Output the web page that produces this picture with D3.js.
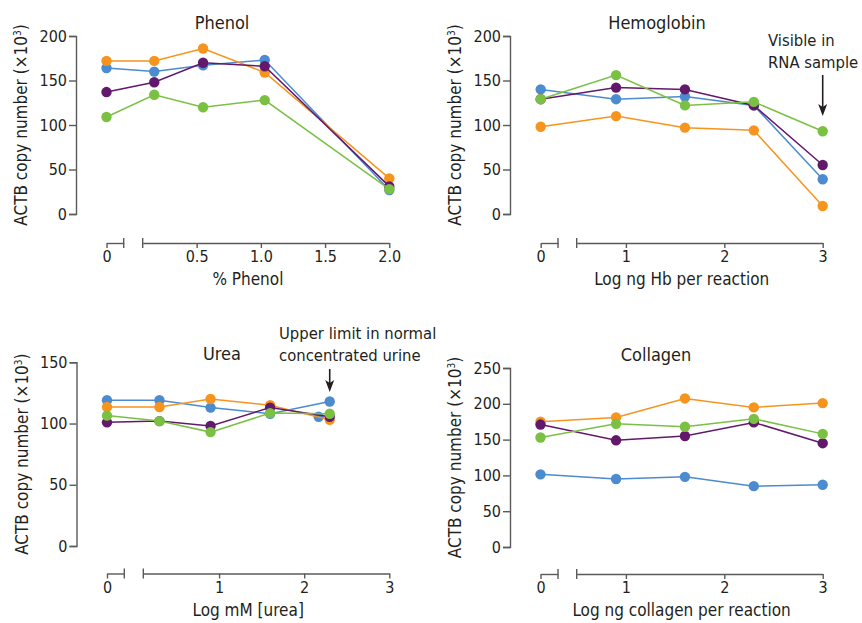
<!DOCTYPE html>
<html>
<head>
<meta charset="utf-8">
<script src="https://cdn.jsdelivr.net/npm/d3@7"></script>
<style>
  body { margin: 0; background: #fff; }
  svg text { font-family: "Liberation Sans Narrow", "DejaVu Sans Condensed", sans-serif; fill: #231f20; }
  .axis path, .axis line { stroke: #5a5a5a; stroke-width: 1.4; }
  .axis text { font-size: 16px; }
</style>
</head>
<body>
<svg id="chart" width="862" height="623"></svg>
<script>
// series order (drawing order, bottom to top)
const seriesKeys = ['blue', 'orange', 'purple', 'green'];
const seriesColors = ['#4b8bcf', '#f7941d', '#63196b', '#7ac143'];

// Phenol
const phenolX = [0, 0.17, 0.55, 1.03, 2.0];
const phenolBlue = [164, 160, 167, 173, 27];
const phenolOrange = [172, 172, 186, 159, 40];
const phenolPurple = [137, 148, 170, 166, 31];
const phenolGreen = [109, 134, 120, 128, 28];
const phenolXTicks = [0.5, 1.0, 1.5, 2.0];
const phenolYTicks = [0, 50, 100, 150, 200];

// Hemoglobin
const hbX = [0, 0.9, 1.6, 2.3, 3];
const hbBlue = [140, 129, 132, 122, 39];
const hbOrange = [98, 110, 97, 94, 9];
const hbPurple = [129, 142, 140, 122, 55];
const hbGreen = [129, 156, 122, 126, 93];
const hbXTicks = [1, 2, 3];
const hbYTicks = [0, 50, 100, 150, 200];

// Urea
const ureaX = [0, 0.3, 0.9, 1.6, 2.3];
const ureaBlue = [119, 119, 113, 108, 118];
const ureaOrange = [113.5, 113.5, 120, 115, 103];
const ureaPurple = [101, 102, 98, 113, 105.5];
const ureaGreen = [106.5, 102, 93, 108.5, 108];
const ureaBlueExtraX = [2.17];
const ureaBlueExtraY = [105.5];
const ureaXTicks = [1, 2, 3];
const ureaYTicks = [0, 50, 100, 150];

// Collagen
const collagenX = [0, 0.9, 1.6, 2.3, 3];
const collagenBlue = [101.5, 95, 98, 85, 87];
const collagenOrange = [175, 181, 207.5, 195, 201];
const collagenPurple = [171, 149, 155, 174, 145];
const collagenGreen = [153, 172, 168, 179, 158];
const collagenXTicks = [1, 2, 3];
const collagenYTicks = [0, 50, 100, 150, 200, 250];

const svg = d3.select('#chart');

function drawPanel(cfg) {
  const g = svg.append('g');

  const y = d3.scaleLinear().domain(cfg.yDomain).range([cfg.yBottom, cfg.yTop]);
  // broken x axis: a short piece for 0, then the main piece
  const xZero = d3.scaleLinear().domain([0, cfg.zeroEnd]).range([cfg.zeroX, cfg.breakX]);
  const xMain = d3.scaleLinear().domain(cfg.mainDomain).range([cfg.mainStart, cfg.mainEnd]);
  const xPos = d => d === 0 ? xZero(d) : xMain(d);

  // y axis
  g.append('g')
    .attr('class', 'axis')
    .attr('transform', `translate(${cfg.left},0)`)
    .call(d3.axisLeft(y).tickValues(cfg.yTicks).tickSize(7).tickPadding(2).tickFormat(d3.format('d')));

  // x axis pieces
  g.append('g')
    .attr('class', 'axis')
    .attr('transform', `translate(0,${cfg.axisY})`)
    .call(d3.axisBottom(xZero).tickValues([0]).tickSizeInner(5).tickSizeOuter(0).tickPadding(3).tickFormat(d3.format('d')));

  g.append('g')
    .attr('class', 'axis')
    .attr('transform', `translate(0,${cfg.axisY})`)
    .call(d3.axisBottom(xMain).tickValues(cfg.xTicks).tickSizeInner(5).tickSizeOuter(0).tickPadding(3).tickFormat(cfg.xFormat));

  // break caps
  g.selectAll('.cap')
    .data([cfg.breakX, cfg.mainStart])
    .join('line')
    .attr('class', 'cap')
    .attr('x1', d => d).attr('x2', d => d)
    .attr('y1', cfg.axisY - 5).attr('y2', cfg.axisY + 5)
    .attr('stroke', '#5a5a5a').attr('stroke-width', 1.4);

  // titles
  g.append('text')
    .attr('x', cfg.titleX).attr('y', cfg.titleY)
    .attr('text-anchor', 'middle')
    .style('font-size', '18px')
    .text(cfg.title);

  g.append('text')
    .attr('x', (cfg.zeroX + cfg.mainEnd) / 2).attr('y', cfg.axisY + 42)
    .attr('text-anchor', 'middle')
    .style('font-size', '17px')
    .text(cfg.xLabel);

  const yl = g.append('text')
    .attr('transform', `translate(${cfg.left - 49},${(cfg.yTop + cfg.yBottom) / 2}) rotate(-90)`)
    .attr('text-anchor', 'middle')
    .style('font-size', '17px');
  yl.append('tspan').text('ACTB copy number (×10');
  yl.append('tspan').attr('dy', -6).style('font-size', '10px').text('3');
  yl.append('tspan').attr('dy', 6).text(')');

  // series
  const line = d3.line().x(d => xPos(d.x)).y(d => y(d.y));
  seriesKeys.forEach((k, i) => {
    const pts = cfg.x.map((xv, j) => ({x: xv, y: cfg.series[i][j]}));
    g.append('path')
      .datum(pts)
      .attr('fill', 'none')
      .attr('stroke', seriesColors[i])
      .attr('stroke-width', 1.5)
      .attr('d', line);
    g.selectAll('.dot-' + k)
      .data(pts)
      .join('circle')
      .attr('class', 'dot-' + k)
      .attr('cx', d => xPos(d.x))
      .attr('cy', d => y(d.y))
      .attr('r', 5.2)
      .attr('fill', seriesColors[i]);
  });

  if (cfg.extra) {
    g.selectAll('.extra')
      .data(cfg.extra.x.map((xv, j) => ({x: xv, y: cfg.extra.y[j]})))
      .join('circle')
      .attr('cx', d => xPos(d.x))
      .attr('cy', d => y(d.y))
      .attr('r', 5.2)
      .attr('fill', cfg.extra.color)
      .lower();
  }

  if (cfg.note) {
    const ax = xPos(cfg.note.at);
    cfg.note.lines.forEach((t, j) => {
      g.append('text')
        .attr('x', cfg.note.textX).attr('y', cfg.note.textY + j * 22)
        .style('font-size', '16.5px')
        .text(t);
    });
    g.append('line')
      .attr('x1', ax).attr('x2', ax)
      .attr('y1', cfg.note.y1).attr('y2', cfg.note.y2 - 6)
      .attr('stroke', '#231f20').attr('stroke-width', 1.6);
    const t = cfg.note.y2;
    g.append('path')
      .attr('d', `M${ax},${t} L${ax - 4.5},${t - 12} L${ax},${t - 9} L${ax + 4.5},${t - 12} Z`)
      .attr('fill', '#231f20');
  }
}

drawPanel({
  title: 'Phenol', titleX: 222, titleY: 29,
  xLabel: '% Phenol',
  x: phenolX, series: [phenolBlue, phenolOrange, phenolPurple, phenolGreen],
  yDomain: [0, 200], yTicks: phenolYTicks, xTicks: phenolXTicks, xFormat: d3.format('.1f'),
  left: 76, yTop: 36, yBottom: 214, axisY: 243,
  zeroX: 106.5, breakX: 123.7, zeroEnd: 0.135,
  mainStart: 142.7, mainEnd: 389.3, mainDomain: [0.08, 2.0]
});

drawPanel({
  title: 'Hemoglobin', titleX: 657, titleY: 29,
  xLabel: 'Log ng Hb per reaction',
  x: hbX, series: [hbBlue, hbOrange, hbPurple, hbGreen],
  yDomain: [0, 200], yTicks: hbYTicks, xTicks: hbXTicks, xFormat: d3.format('d'),
  left: 510, yTop: 36, yBottom: 214, axisY: 243,
  zeroX: 540.7, breakX: 558, zeroEnd: 0.176,
  mainStart: 576.7, mainEnd: 822.7, mainDomain: [0.5, 3],
  note: {at: 3, lines: ['Visible in', 'RNA sample'], textX: 768, textY: 46, y1: 75, y2: 116}
});

drawPanel({
  title: 'Urea', titleX: 222, titleY: 360,
  xLabel: 'Log mM [urea]',
  x: ureaX, series: [ureaBlue, ureaOrange, ureaPurple, ureaGreen],
  extra: {x: ureaBlueExtraX, y: ureaBlueExtraY, color: seriesColors[0]},
  yDomain: [0, 150], yTicks: ureaYTicks, xTicks: ureaXTicks, xFormat: d3.format('d'),
  left: 76.5, yTop: 362.3, yBottom: 546, axisY: 573.5,
  zeroX: 107, breakX: 124.3, zeroEnd: 0.2,
  mainStart: 143.3, mainEnd: 389.3, mainDomain: [0.11, 3],
  note: {at: 2.3, lines: ['Upper limit in normal', 'concentrated urine'], textX: 279, textY: 339, y1: 369, y2: 392}
});

drawPanel({
  title: 'Collagen', titleX: 656, titleY: 361,
  xLabel: 'Log ng collagen per reaction',
  x: collagenX, series: [collagenBlue, collagenOrange, collagenPurple, collagenGreen],
  yDomain: [0, 250], yTicks: collagenYTicks, xTicks: collagenXTicks, xFormat: d3.format('d'),
  left: 510, yTop: 368, yBottom: 547, axisY: 574,
  zeroX: 540.5, breakX: 558, zeroEnd: 0.176,
  mainStart: 576.7, mainEnd: 822.7, mainDomain: [0.5, 3]
});
</script>
</body>
</html>
